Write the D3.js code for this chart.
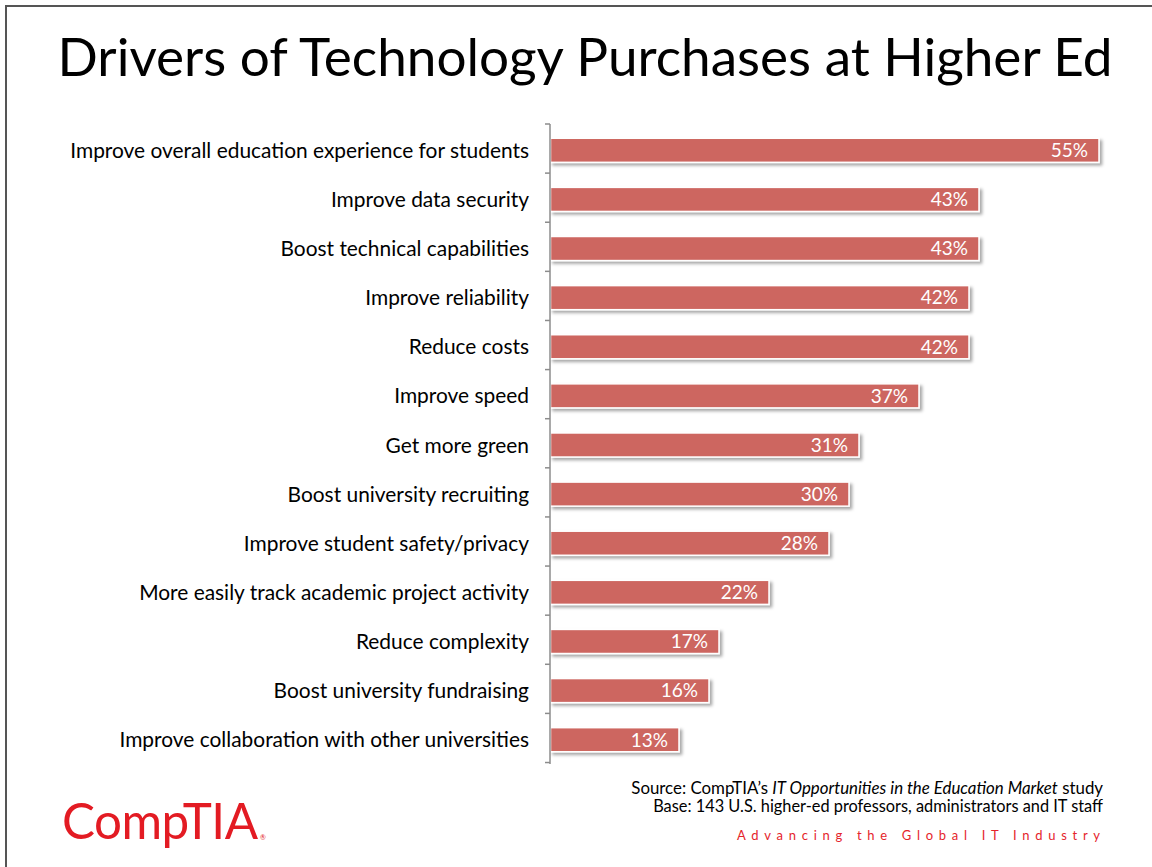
<!DOCTYPE html>
<html>
<head>
<meta charset="utf-8">
<script src="https://cdn.jsdelivr.net/npm/d3@7"></script>
<style>
  html, body { margin: 0; padding: 0; background: #fff; }
  svg { display: block; }
</style>
</head>
<body>
<svg id="chart" width="1152" height="867"></svg>
<script>
// Survey results: share of respondents citing each purchase driver
const categories = [
  "Improve overall education experience for students",
  "Improve data security",
  "Boost technical capabilities",
  "Improve reliability",
  "Reduce costs",
  "Improve speed",
  "Get more green",
  "Boost university recruiting",
  "Improve student safety/privacy",
  "More easily track academic project activity",
  "Reduce complexity",
  "Boost university fundraising",
  "Improve collaboration with other universities"
];
const values = [55, 43, 43, 42, 42, 37, 31, 30, 28, 22, 17, 16, 13];

const titleText = "Drivers of Technology Purchases at Higher Ed";
const sourcePrefix = "Source: CompTIA\u2019s ";
const sourceItalic = "IT Opportunities in the Education Market";
const sourceSuffix = " study";
const baseText = "Base: 143 U.S. higher-ed professors, administrators and IT staff";
const taglineText = "Advancing the Global IT Industry";

const svg = d3.select("#chart");
const FONT = "Lato, 'Open Sans', sans-serif";

// slide frame
svg.append("line").attr("x1", 5).attr("x2", 1152).attr("y1", 6).attr("y2", 6)
  .attr("stroke", "#555").attr("stroke-width", 2);
svg.append("line").attr("x1", 6).attr("x2", 6).attr("y1", 6).attr("y2", 867)
  .attr("stroke", "#555").attr("stroke-width", 2);

// fit a text node to a target width by adjusting its font size
function fitWidth(sel, target) {
  const node = sel.node();
  const fs = parseFloat(sel.attr("font-size"));
  const w = node.getComputedTextLength();
  sel.attr("font-size", (fs * target / w).toFixed(2));
}

// title
const title = svg.append("text")
  .attr("x", 585).attr("y", 76)
  .attr("text-anchor", "middle")
  .attr("font-family", FONT).attr("font-size", 50).attr("fill", "#000")
  .text(titleText);
fitWidth(title, 1055);

// scales
const AX_TOP = 124, AX_BOT = 764;
const x = d3.scaleLinear().domain([0, 55]).range([549, 1099]);
const y = d3.scaleBand().domain(categories).range([AX_TOP, AX_BOT]).paddingInner(0.51).paddingOuter(0.27);

const defs = svg.append("defs");
const f = defs.append("filter").attr("id", "shadow")
  .attr("x", "-5%").attr("y", "-30%").attr("width", "115%").attr("height", "180%");
f.append("feDropShadow").attr("dx", 2.5).attr("dy", 2.5).attr("stdDeviation", 1.6)
  .attr("flood-color", "#000").attr("flood-opacity", 0.35);

// bars
svg.append("g").selectAll("rect")
  .data(categories)
  .join("rect")
  .attr("x", x(0) + 1.5)
  .attr("y", d => y(d) + 1)
  .attr("width", (d, i) => x(values[i]) - x(0) - 1.5)
  .attr("height", y.bandwidth())
  .attr("fill", "#CD6660")
  .attr("stroke", "#fff").attr("stroke-width", 1.5)
  .attr("filter", "url(#shadow)");

// value labels
svg.append("g").selectAll("text")
  .data(categories)
  .join("text")
  .attr("x", (d, i) => x(values[i]) - 11)
  .attr("y", d => y(d) + 1 + y.bandwidth() / 2)
  .attr("dy", "0.36em")
  .attr("text-anchor", "end")
  .attr("font-family", FONT).attr("font-size", 19).attr("fill", "#fff")
  .text((d, i) => values[i] + "%");

// category axis with outward ticks at band boundaries
const axisG = svg.append("g");
const step = y.step();
const bounds = d3.range(categories.length + 1).map(i => AX_TOP + i * step);
axisG.append("line").attr("x1", 550).attr("x2", 550).attr("y1", AX_TOP).attr("y2", AX_BOT)
  .attr("stroke", "#8c8c8c").attr("stroke-width", 1.5);
axisG.selectAll("line.tick").data(bounds).join("line").attr("class", "tick")
  .attr("x1", 545).attr("x2", 550).attr("y1", d => d).attr("y2", d => d)
  .attr("stroke", "#8c8c8c").attr("stroke-width", 1.5);

// category labels
const labels = svg.append("g").selectAll("text")
  .data(categories)
  .join("text")
  .attr("x", 529)
  .attr("y", d => y(d) + 1 + y.bandwidth() / 2)
  .attr("dy", "0.36em")
  .attr("text-anchor", "end")
  .attr("font-family", FONT).attr("font-size", 20).attr("fill", "#000")
  .text(d => d);
const widest = d3.max(labels.nodes(), n => n.getComputedTextLength());
labels.attr("font-size", (20 * 459 / widest).toFixed(2));

// source notes
const src = svg.append("text")
  .attr("x", 1103).attr("y", 794).attr("text-anchor", "end")
  .attr("font-family", FONT).attr("font-size", 14.5).attr("fill", "#000");
src.append("tspan").text(sourcePrefix);
src.append("tspan").attr("font-style", "italic").text(sourceItalic);
src.append("tspan").text(sourceSuffix);
fitWidth(src, 1103 - 631);

const base = svg.append("text")
  .attr("x", 1103).attr("y", 812).attr("text-anchor", "end")
  .attr("font-family", FONT).attr("font-size", 14.5).attr("fill", "#000")
  .text(baseText);
fitWidth(base, 1103 - 653);

// tagline
svg.append("text")
  .attr("x", 737).attr("y", 840)
  .attr("font-family", FONT).attr("font-size", 13).attr("fill", "#E5242B")
  .attr("letter-spacing", "5.7px")
  .text(taglineText);

// wordmark
const logo = svg.append("text")
  .attr("x", 62).attr("y", 839)
  .attr("font-family", FONT).attr("font-size", 42).attr("fill", "#E31B23")
  .attr("letter-spacing", "-0.5px")
  .text("CompTIA");
fitWidth(logo, 195);
svg.append("text")
  .attr("x", 260).attr("y", 840)
  .attr("font-family", FONT).attr("font-size", 7).attr("fill", "#E31B23")
  .text("\u00AE");
</script>
</body>
</html>
